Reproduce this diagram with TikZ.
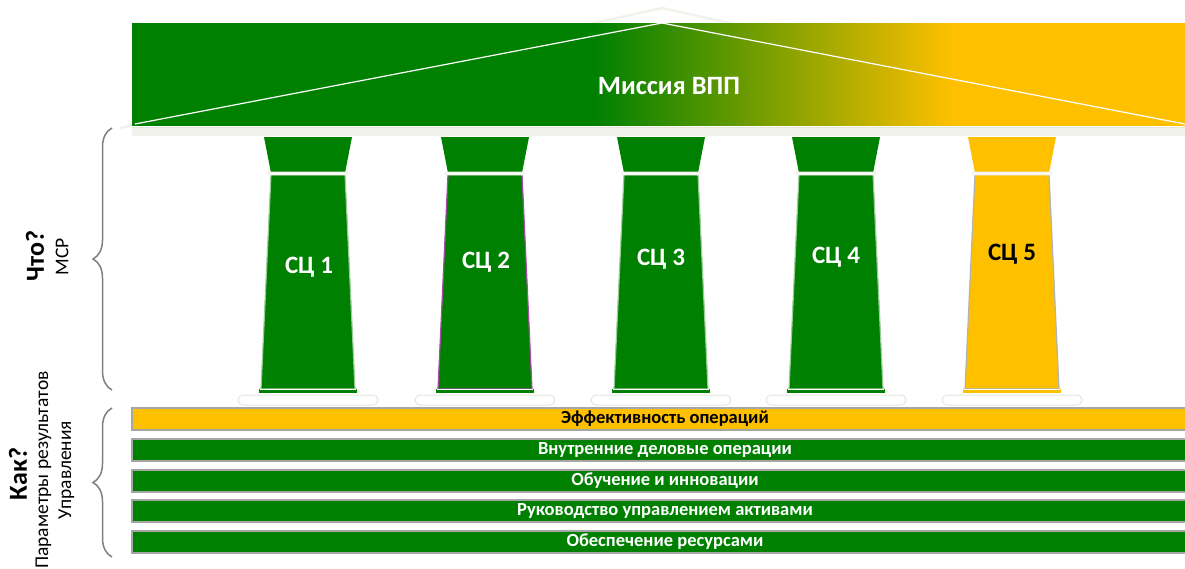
\documentclass[tikz,border=0pt]{standalone}
\usepackage{fontspec}
\setmainfont{Carlito}
\usetikzlibrary{decorations.pathreplacing}
\definecolor{pgreen}{HTML}{008000}
\definecolor{pyellow}{HTML}{FFC000}
\definecolor{pbeige}{HTML}{F2F2EC}
\definecolor{pbeigeline}{HTML}{E6E6DC}
\definecolor{pbargray}{HTML}{A6A6A6}
\definecolor{pbrace}{HTML}{7F7F7F}
\pgfdeclarehorizontalshading{roofshade}{100bp}{color(0bp)=(pgreen); color(47bp)=(pgreen); color(64bp)=(pyellow); color(100bp)=(pyellow)}
\tikzset{
  barbox/.style={draw=pbargray, line width=2pt, minimum width=1066pt, minimum height=22pt,
    inner sep=0pt, font=\fontsize{18.5}{20}\selectfont\bfseries, text=white, fill=pgreen},
  pillarlabel/.style={font=\fontsize{25}{28}\selectfont\bfseries, text=white},
  ghostline/.style={draw=pbeige, line width=2.5pt},
  bracestyle/.style={draw=pbrace, line width=1.5pt, decorate,
    decoration={brace, amplitude=19pt, aspect=0.5}},
  sidebold/.style={font=\fontsize{26}{28}\selectfont\bfseries, rotate=90},
  sidereg/.style={font=\fontsize{19.5}{23}\selectfont, rotate=90, align=center},
}
\newcommand\mypillar[3]{%
  \draw[pbeigeline, line width=1pt, fill=white, rounded corners=5pt] (#1-70,395) rectangle (#1+70,405);
  \fill[#2] (#1-44,137) -- (#1+44,137) -- (#1+37,173) -- (#1-37,173) -- cycle;
  \draw[#3, line width=1.2pt, fill=#2] (#1-37,174) -- (#1+37,174) -- (#1+47,389) -- (#1-47,389) -- cycle;
  \fill[#2] (#1-49,389) rectangle (#1+49,393);
  \draw[white, line width=0.8pt] (#1-48,389) -- (#1+48,389);
  \draw[pbeigeline, line width=0.6pt, fill=white, rounded corners=1.5pt] (#1-40,172) rectangle (#1+40,175);
}
\begin{document}
\begin{tikzpicture}[x=1pt,y=-1pt]
\useasboundingbox (0,0) rectangle (1185,568);
\clip (0,0) rectangle (1185,568);
% ghost pediment
\draw[ghostline] (120,128) -- (662,8) -- (1200,128);
% roof
\shade[shading=roofshade] (132,23) rectangle (1185,125);
\draw[white, line width=1.2pt] (135,124) -- (662,23) -- (1190,125);
\node[font=\fontsize{26.5}{30}\selectfont\bfseries, text=white] (mission) at (669,86) {Миссия ВПП};
% entablature
\fill[pbeige] (132,127) rectangle (1185,136);
\draw[pbeigeline, line width=0.6pt] (132,127) -- (1185,127);
% pillars
\mypillar{308}{pgreen}{pgreen!40!white}
\mypillar{485}{pgreen}{violet!70!white}
\mypillar{661}{pgreen}{pgreen!40!white}
\mypillar{836}{pgreen}{pgreen!40!white}
\mypillar{1012}{pyellow}{gray!60}
\node[pillarlabel] (sc1) at (309,267) {СЦ 1};
\node[pillarlabel] (sc2) at (486,262) {СЦ 2};
\node[pillarlabel] (sc3) at (661,259) {СЦ 3};
\node[pillarlabel] (sc4) at (836,257) {СЦ 4};
\node[pillarlabel, text=black] (sc5) at (1012,254) {СЦ 5};
% bars
\node[barbox, fill=pyellow, text=black] (b1) at (665,419) {Эффективность операций};
\node[barbox] (b2) at (665,450) {Внутренние деловые операции};
\node[barbox] (b3) at (665,481) {Обучение и инновации};
\node[barbox] (b4) at (665,511) {Руководство управлением активами};
\node[barbox] (b5) at (665,542) {Обеспечение ресурсами};
% braces
\coordinate (br1a) at (112,390);
\coordinate (br1b) at (112,128);
\coordinate (br2a) at (112,557);
\coordinate (br2b) at (112,408);
\draw[bracestyle] (br1a) -- (br1b);
\draw[bracestyle] (br2a) -- (br2b);
% side labels
\node[sidebold] (what) at (35,256) {Что?};
\node[sidereg] (msr) at (62,257) {МСР};
\node[sidebold] (how) at (18,474) {Как?};
\node[sidereg] (params) at (55,470) {Параметры результатов\\Управления};
\end{tikzpicture}
\end{document}
